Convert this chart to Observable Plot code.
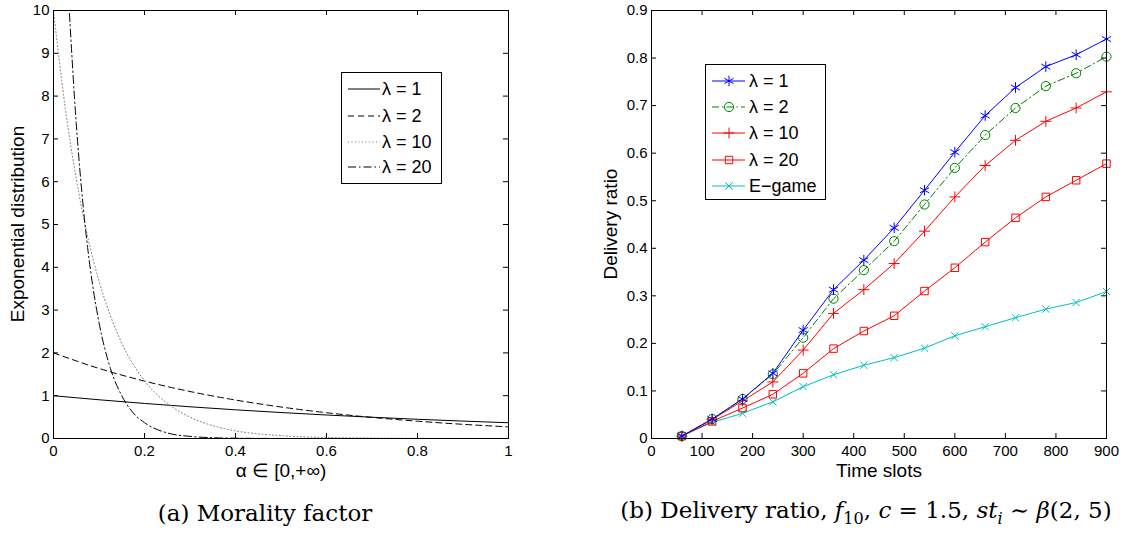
<!DOCTYPE html>
<html><head><meta charset="utf-8">
<script src="https://cdn.jsdelivr.net/npm/d3@7"></script>
<script src="https://cdn.jsdelivr.net/npm/@observablehq/plot@0.6"></script>
<style>
body{margin:0;background:#fff;}
#root{position:relative;width:1123px;height:546px;overflow:hidden;background:#fff;font-family:"Liberation Sans",Arial,sans-serif;color:#000;}
#root svg{position:absolute;overflow:visible;}
.ylab{position:absolute;transform:translate(-50%,-50%) rotate(-90deg);white-space:nowrap;font-size:19px;line-height:1;}
.xlab{position:absolute;transform:translate(-50%,-50%);white-space:nowrap;font-size:19px;line-height:1;}
.cap{position:absolute;transform:translate(-50%,-50%);white-space:nowrap;font-family:"DejaVu Serif","Liberation Serif",serif;font-size:23px;line-height:1;}
.cap i{font-style:italic;}
</style></head><body><div id="root"></div>
<script>
// ---------- Panel (a): exponential distribution curves ----------
const alphaA = [0, 0.1, 0.2, 0.3, 0.4, 0.5, 0.6, 0.7, 0.8, 0.9, 1.0];
const lam1 = [1.00, 0.905, 0.819, 0.741, 0.670, 0.607, 0.549, 0.497, 0.449, 0.407, 0.368];
const lam2 = [2.00, 1.637, 1.341, 1.098, 0.899, 0.736, 0.602, 0.493, 0.404, 0.331, 0.271];
const alpha10 = [0, 0.025, 0.05, 0.075, 0.1, 0.125, 0.15, 0.2, 0.25, 0.3, 0.35, 0.4, 0.5, 0.6, 0.8, 1.0];
const lam10 = [10, 7.79, 6.07, 4.72, 3.68, 2.87, 2.23, 1.35, 0.82, 0.50, 0.30, 0.18, 0.067, 0.025, 0.003, 0.0005];
const alpha20 = [0.035, 0.05, 0.0625, 0.075, 0.0875, 0.1, 0.125, 0.15, 0.175, 0.2, 0.25, 0.3, 0.35, 0.4, 0.5, 0.6, 1.0];
const lam20 = [9.93, 7.36, 5.73, 4.46, 3.48, 2.71, 1.64, 1.00, 0.60, 0.37, 0.13, 0.05, 0.018, 0.007, 0.001, 0.0001, 0];
const xTicksA = [0, 0.2, 0.4, 0.6, 0.8, 1];
const yTicksA = [0, 1, 2, 3, 4, 5, 6, 7, 8, 9, 10];
const labelsA = ["λ = 1", "λ = 2", "λ = 10", "λ = 20"];

// ---------- Panel (b): delivery ratio ----------
const timeSlots = [60, 120, 180, 240, 300, 360, 420, 480, 540, 600, 660, 720, 780, 840, 900];
const dr1 = [0.005, 0.041, 0.083, 0.137, 0.228, 0.313, 0.375, 0.443, 0.522, 0.602, 0.679, 0.738, 0.782, 0.807, 0.840];
const dr2 = [0.005, 0.041, 0.083, 0.135, 0.212, 0.294, 0.354, 0.415, 0.492, 0.569, 0.638, 0.695, 0.741, 0.768, 0.803];
const dr10 = [0.005, 0.040, 0.079, 0.119, 0.186, 0.263, 0.313, 0.368, 0.436, 0.508, 0.574, 0.627, 0.667, 0.695, 0.729];
const dr20 = [0.005, 0.036, 0.064, 0.093, 0.137, 0.189, 0.226, 0.258, 0.310, 0.359, 0.413, 0.464, 0.508, 0.543, 0.578];
const drEgame = [0.005, 0.034, 0.053, 0.077, 0.109, 0.134, 0.154, 0.170, 0.190, 0.216, 0.235, 0.254, 0.272, 0.286, 0.309];
const xTicksB = [0, 100, 200, 300, 400, 500, 600, 700, 800, 900];
const yTicksB = [0, 0.1, 0.2, 0.3, 0.4, 0.5, 0.6, 0.7, 0.8, 0.9];
const labelsB = ["λ = 1", "λ = 2", "λ = 10", "λ = 20", "E−game"];

const root = document.getElementById("root");
const FONT = '"Liberation Sans", Arial, sans-serif';
const PW = 455, PH = 428, TK = 5;

function boxTicks(xt, yt) {
  return [
    Plot.tickX(xt, {x: d => d, insetTop: PH - TK, stroke: "#000"}),
    Plot.tickX(xt, {x: d => d, insetBottom: PH - TK, stroke: "#000"}),
    Plot.tickY(yt, {y: d => d, insetRight: PW - TK, stroke: "#000"}),
    Plot.tickY(yt, {y: d => d, insetLeft: PW - TK, stroke: "#000"})
  ];
}

// Styles for panel (a)
const stylesA = [
  {stroke: "#000", dash: null},
  {stroke: "#000", dash: "6,4"},
  {stroke: "#777", dash: "1,2.5"},
  {stroke: "#000", dash: "8,3,1.5,3"}
];
const seriesA = [[alphaA, lam1], [alphaA, lam2], [alpha10, lam10], [alpha20, lam20]];

const plotA = Plot.plot({
  width: 560, height: 480,
  marginLeft: 53, marginRight: 52, marginTop: 10, marginBottom: 42,
  x: {domain: [0, 1]},
  y: {domain: [0, 10]},
  style: {fontFamily: FONT, fontSize: "15px", color: "#000", background: "transparent"},
  marks: [
    Plot.axisX({ticks: xTicksA, tickSize: 0, tickPadding: 7, tickFormat: d => String(d), label: null}),
    Plot.axisY({ticks: yTicksA, tickSize: 0, tickPadding: 4, tickFormat: d => String(d), label: null}),
    ...seriesA.map(([xs, ys], i) => Plot.line(xs.map((x, j) => ({x, y: ys[j]})), {
      x: "x", y: "y", curve: "monotone-x", clip: true,
      stroke: stylesA[i].stroke, strokeWidth: 1, strokeDasharray: stylesA[i].dash
    })),
    ...boxTicks(xTicksA, yTicksA),
    Plot.frame({stroke: "#000"})
  ]
});
plotA.style.left = "0px"; plotA.style.top = "0px";
root.appendChild(plotA);

// Styles for panel (b)
const stylesB = [
  {stroke: "#0000ff", dash: null, symbol: "asterisk", r: 5},
  {stroke: "#008000", dash: "7,3,1.5,3", symbol: "circle", r: 4.6},
  {stroke: "#ff0000", dash: null, symbol: "plus", r: 3.6},
  {stroke: "#ff0000", dash: null, symbol: "square", r: 4.2},
  {stroke: "#00bfbf", dash: null, symbol: "times", r: 3.4}
];
const seriesB = [dr1, dr2, dr10, dr20, drEgame];

const plotB = Plot.plot({
  width: 563, height: 480,
  marginLeft: 91, marginRight: 17, marginTop: 10, marginBottom: 42,
  x: {domain: [0, 900]},
  y: {domain: [0, 0.9]},
  style: {fontFamily: FONT, fontSize: "15px", color: "#000", background: "transparent"},
  marks: [
    Plot.axisX({ticks: xTicksB, tickSize: 0, tickPadding: 7, tickFormat: d => String(d), label: null}),
    Plot.axisY({ticks: yTicksB, tickSize: 0, tickPadding: 4, tickFormat: d => String(d), label: null}),
    ...boxTicks(xTicksB, yTicksB),
    ...seriesB.slice().reverse().flatMap((ys, ri) => {
      const i = seriesB.length - 1 - ri;
      const data = timeSlots.map((x, j) => ({x, y: ys[j]}));
      return [
        Plot.line(data, {x: "x", y: "y", stroke: stylesB[i].stroke, strokeWidth: 1, strokeDasharray: stylesB[i].dash}),
        Plot.dot(data, {x: "x", y: "y", symbol: stylesB[i].symbol, r: stylesB[i].r, stroke: stylesB[i].stroke, fill: "none", strokeWidth: 1})
      ];
    }),
    Plot.frame({stroke: "#000"})
  ]
});
plotB.style.left = "560px"; plotB.style.top = "0px";
root.appendChild(plotB);

// ---------- Legends ----------
const symMap = {asterisk: d3.symbolAsterisk, circle: d3.symbolCircle, plus: d3.symbolPlus, square: d3.symbolSquare, times: d3.symbolTimes};
function legend(left, top, w, h, labels, styles, rows, x0, x1, tx, mx) {
  const svg = d3.create("svg").attr("width", w + 1).attr("height", h + 1)
    .style("left", left + "px").style("top", top + "px");
  svg.append("rect").attr("x", 0.5).attr("y", 0.5).attr("width", w).attr("height", h)
    .attr("fill", "#fff").attr("stroke", "#000").attr("stroke-width", 1);
  labels.forEach((lab, i) => {
    const s = styles[i], y = rows[i];
    svg.append("line").attr("x1", x0).attr("x2", x1).attr("y1", y).attr("y2", y)
      .attr("stroke", s.stroke).attr("stroke-width", 1).attr("stroke-dasharray", s.dash);
    if (s.symbol) {
      svg.append("path").attr("transform", `translate(${mx},${y})`)
        .attr("d", d3.symbol(symMap[s.symbol], s.r * s.r * Math.PI)())
        .attr("fill", "none").attr("stroke", s.stroke).attr("stroke-width", 1);
    }
    svg.append("text").attr("x", tx).attr("y", y).attr("dy", "0.35em")
      .attr("font-family", FONT).attr("font-size", 18).attr("fill", "#000").text(lab);
  });
  root.appendChild(svg.node());
}
legend(341, 72, 100, 111, labelsA, stylesA, [17, 44, 70, 95], 7, 39, 41, null);
legend(705, 64, 120, 135, labelsB, stylesB, [17, 43, 69, 96, 122], 7, 40, 44, 24);

// ---------- Axis titles & captions ----------
function addDiv(cls, html, x, y) {
  const d = document.createElement("div");
  d.className = cls; d.innerHTML = html;
  d.style.left = x + "px"; d.style.top = y + "px";
  root.appendChild(d);
}
addDiv("ylab", "Exponential distribution", 17, 224);
addDiv("xlab", "α ∈ [0,+∞)", 281, 470);
addDiv("ylab", "Delivery ratio", 610, 224);
addDiv("xlab", "Time slots", 879, 470);
addDiv("cap", "(a) Morality factor", 265, 513);
addDiv("cap", "(b) Delivery ratio, <i>f</i><sub style=\"font-size:70%\">10</sub>, <i>c</i> = 1.5, <i>st<sub style=\"font-size:70%\">i</sub></i> ∼ <i>β</i>(2, 5)", 866, 513);
</script></body></html>
